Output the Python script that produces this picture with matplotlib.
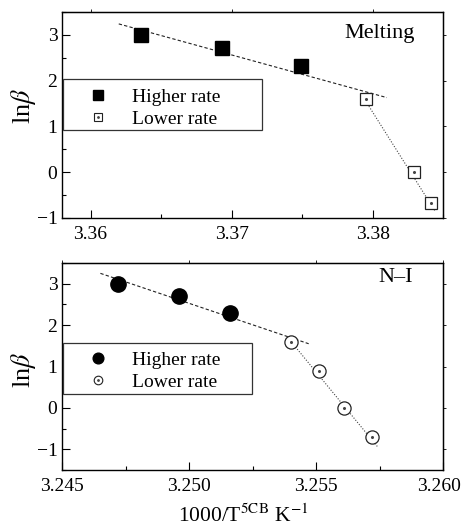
import matplotlib
matplotlib.use("Agg")
import matplotlib.pyplot as plt
import matplotlib.transforms as mtransforms
from matplotlib.ticker import MultipleLocator
from matplotlib.legend_handler import HandlerTuple
from matplotlib.lines import Line2D
from matplotlib.patches import Rectangle

plt.rcParams['font.family'] = ['Liberation Serif', 'DejaVu Serif']
plt.rcParams['mathtext.fontset'] = 'stix'

# Melting panel
melt_hi_x = [3.3636, 3.3693, 3.3749]
melt_hi_y = [3.0, 2.71, 2.31]
melt_lo_x = [3.3795, 3.3829, 3.3841]
melt_lo_y = [1.61, 0.0, -0.68]
melt_fit_hi_x = [3.3620, 3.3810]
melt_fit_hi_y = [3.24, 1.63]
melt_fit_lo_x = [3.3792, 3.3844]
melt_fit_lo_y = [1.70, -0.84]

# N-I panel
ni_hi_x = [3.2472, 3.2496, 3.2516]
ni_hi_y = [3.0, 2.7, 2.3]
ni_lo_x = [3.2540, 3.2551, 3.2561, 3.2572]
ni_lo_y = [1.6, 0.9, 0.0, -0.7]
ni_fit_hi_x = [3.2465, 3.2547]
ni_fit_hi_y = [3.25, 1.55]
ni_fit_lo_x = [3.2539, 3.2574]
ni_fit_lo_y = [1.68, -0.93]

legend_labels = ['Higher rate', 'Lower rate']
y_ticks = [-1, 0, 1, 2, 3]
y_ticklabels = ['\u22121', '0', '1', '2', '3']

W, H = 463, 526
fig = plt.figure(figsize=(W/100, H/100), dpi=100)
ax1 = fig.add_axes([62.3/W, 1-218/H, 381/W, 206/H])
ax2 = fig.add_axes([62.3/W, 1-470/H, 381/W, 207/H])

def style(ax, ylab_y):
    ax.tick_params(which='both', direction='in', top=False, right=False,
                   labelsize=14, width=0.8)
    ax.tick_params(which='major', length=6)
    ax.tick_params(which='minor', length=3)
    ax.tick_params(axis='x', pad=6)
    for s in ax.spines.values():
        s.set_linewidth(1.0)
    sec_x = ax.secondary_xaxis('top')
    sec_x.set_xticks(ax.get_xticks())
    sec_x.tick_params(direction='out', length=2, labeltop=False, width=0.6)
    sec_y = ax.secondary_yaxis('right')
    sec_y.tick_params(direction='out', length=2, labelright=False, width=0.6)
    ax.set_ylabel(r'ln$\beta$', fontsize=19)
    ax.yaxis.set_label_coords(-0.064, ylab_y)

def panel(ax, hx, hy, lx, ly, fhx, fhy, flx, fly, marker, ms_hi, ms_lo,
          frame_px, row_center_px, ax_top_px, ax_h_px):
    ax.plot(fhx, fhy, ls=(0, (3, 2)), color='#222222', lw=0.8, zorder=2)
    ax.plot(flx, fly, ls=(0, (1, 1.5)), color='#444444', lw=0.8, zorder=2)
    ax.plot(hx, hy, ls='none', marker=marker, ms=ms_hi, color='black',
            mec='black', zorder=3)
    ax.plot(lx, ly, ls='none', marker=marker, ms=ms_lo, mfc='white',
            mec='#222222', mew=0.9, zorder=3)
    ax.plot(lx, ly, ls='none', marker='o', ms=1.2, color='#444444', zorder=4)
    # legend frame
    x0, x1, y0, y1 = frame_px
    fx0 = (x0 - 62.3) / 381
    fx1 = (x1 - 62.3) / 381
    fy0 = (ax_top_px + ax_h_px - y1) / ax_h_px
    fy1 = (ax_top_px + ax_h_px - y0) / ax_h_px
    rect = Rectangle((fx0, fy0), fx1 - fx0, fy1 - fy0, transform=ax.transAxes,
                     facecolor='white', edgecolor='#333333', lw=0.9, zorder=5,
                     clip_on=False)
    ax.add_patch(rect)
    hl1 = Line2D([], [], ls='none', marker=marker, ms=ms_hi*0.7, color='black')
    hl2 = Line2D([], [], ls='none', marker=marker, ms=ms_lo*0.65, mfc='white',
                 mec='#222222', mew=0.8)
    hl3 = Line2D([], [], ls='none', marker='o', ms=1.0, color='#444444')
    cy = (ax_top_px + ax_h_px - row_center_px) / ax_h_px
    leg = ax.legend([hl1, (hl2, hl3)], legend_labels,
                    handler_map={tuple: HandlerTuple(ndivide=1, pad=0)},
                    loc='center left', fontsize=14, frameon=False,
                    borderpad=0.5, labelspacing=0.25,
                    handletextpad=0.35, handlelength=2.71, borderaxespad=0,
                    bbox_to_anchor=(0.0, cy), bbox_transform=ax.transAxes)
    leg.set_zorder(6)
    return leg

panel(ax1, melt_hi_x, melt_hi_y, melt_lo_x, melt_lo_y, melt_fit_hi_x, melt_fit_hi_y,
      melt_fit_lo_x, melt_fit_lo_y, 's', 10, 9,
      (63, 262, 79, 130), 108, 12, 206)
ax1.set_xlim(3.358, 3.385)
ax1.set_ylim(-1, 3.5)
ax1.set_xticks([3.36, 3.37, 3.38])
ax1.set_xticklabels(['3.36', '3.37', '3.38'])
ax1.xaxis.set_minor_locator(MultipleLocator(0.005))
ax1.set_yticks(y_ticks)
ax1.set_yticklabels(y_ticklabels)
ax1.yaxis.set_minor_locator(MultipleLocator(0.5))
ax1.text(0.926, 0.895, 'Melting', transform=ax1.transAxes, ha='right', va='center',
         fontsize=16)

panel(ax2, ni_hi_x, ni_hi_y, ni_lo_x, ni_lo_y, ni_fit_hi_x, ni_fit_hi_y,
      ni_fit_lo_x, ni_fit_lo_y, 'o', 11, 9.5,
      (63, 252, 343, 394), 371, 263, 207)
ax2.set_xlim(3.245, 3.260)
ax2.set_ylim(-1.5, 3.5)
ax2.set_xticks([3.245, 3.250, 3.255, 3.260])
ax2.set_xticklabels(['3.245', '3.250', '3.255', '3.260'])
ax2.xaxis.set_minor_locator(MultipleLocator(0.0025))
ax2.set_yticks(y_ticks)
ax2.set_yticklabels(y_ticklabels)
ax2.yaxis.set_minor_locator(MultipleLocator(0.5))
ax2.text(0.92, 0.932, 'N–I', transform=ax2.transAxes, ha='right', va='center',
         fontsize=16)
ax2.set_xlabel(r'1000/T$^{\mathrm{5CB}}$ K$^{-1}$', fontsize=15.5)
ax2.xaxis.set_label_coords(0.475, -0.165)

style(ax1, 0.544)
style(ax2, 0.483)

# keep the last bottom tick label inside the canvas
last = ax2.get_xticklabels()[-1]
last.set_transform(last.get_transform() +
                   mtransforms.ScaledTranslation(-4/100, 0, fig.dpi_scale_trans))

fig.savefig('out.png', dpi=100)
